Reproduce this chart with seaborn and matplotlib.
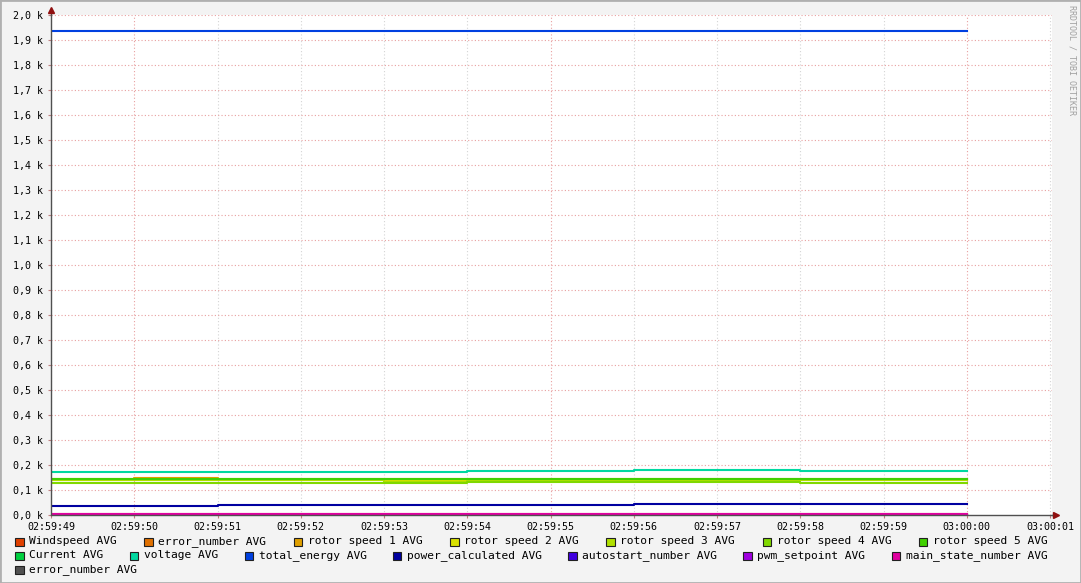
import numpy as np
import pandas as pd
import seaborn as sns
import matplotlib.pyplot as plt
from matplotlib.patches import Rectangle

# time axis labels (one per second)
time_labels = ["02:59:49", "02:59:50", "02:59:51", "02:59:52", "02:59:53", "02:59:54",
               "02:59:55", "02:59:56", "02:59:57", "02:59:58", "02:59:59", "03:00:00",
               "03:00:01"]

series_names = ["Windspeed AVG", "error_number AVG", "rotor speed 1 AVG", "rotor speed 2 AVG",
                "rotor speed 3 AVG", "rotor speed 4 AVG", "rotor speed 5 AVG", "Current AVG",
                "voltage AVG", "total_energy AVG", "power_calculated AVG", "autostart_number AVG",
                "pwm_setpoint AVG", "main_state_number AVG", "error_number AVG"]
series_colors = ["#e04000", "#e07000", "#e0a000", "#d8e000", "#b0e000", "#80d800", "#40d000",
                 "#00d040", "#00d8a0", "#0040e0", "#0000a0", "#4000e0", "#a000e0", "#e000a0",
                 "#505050"]

# one value per 1 s step, 02:59:49 -> 03:00:00
windspeed      = [3, 3, 3, 3, 3, 3, 3, 3, 3, 3, 3]
error_number   = [0, 0, 0, 0, 0, 0, 0, 0, 0, 0, 0]
rotor_speed_1  = [146, 150, 146, 146, 146, 146, 146, 146, 146, 146, 146]
rotor_speed_2  = [140, 140, 140, 140, 140, 140, 140, 140, 140, 140, 140]
rotor_speed_3  = [140, 140, 140, 140, 132, 138, 138, 138, 138, 140, 140]
rotor_speed_4  = [128, 128, 128, 128, 128, 132, 132, 132, 132, 128, 128]
rotor_speed_5  = [146, 146, 146, 146, 146, 146, 146, 146, 146, 146, 146]
current        = [2, 2, 2, 2, 2, 2, 2, 2, 2, 2, 2]
voltage        = [174, 174, 174, 174, 174, 178, 178, 182, 182, 178, 178]
total_energy   = [1936, 1936, 1936, 1936, 1936, 1936, 1936, 1936, 1936, 1936, 1936]
power_calc     = [37, 37, 41, 41, 41, 41, 41, 45, 45, 45, 45]
autostart      = [0, 0, 0, 0, 0, 0, 0, 0, 0, 0, 0]
pwm_setpoint   = [0, 0, 0, 0, 0, 0, 0, 0, 0, 0, 0]
main_state     = [3, 3, 3, 3, 3, 3, 3, 3, 3, 3, 3]
error_number_2 = [0, 0, 0, 0, 0, 0, 0, 0, 0, 0, 0]

all_values = [windspeed, error_number, rotor_speed_1, rotor_speed_2, rotor_speed_3,
              rotor_speed_4, rotor_speed_5, current, voltage, total_energy, power_calc,
              autostart, pwm_setpoint, main_state, error_number_2]

rows = []
for i, vals in enumerate(all_values):
    vv = list(vals) + [vals[-1]]                      # close the last step
    for t, v in enumerate(vv):
        rows.append({"t": t, "value": v, "key": f"s{i}"})
df = pd.DataFrame(rows)
keys = [f"s{i}" for i in range(len(series_names))]
pal = dict(zip(keys, series_colors))
draw_order = [keys[-1]] + keys[:-1]   # grey error_number sits under the magenta line

W, H = 1081, 583
fig = plt.figure(figsize=(W / 100, H / 100), dpi=100, facecolor="#f3f3f3")
# plot canvas: x 51..1052 px, y 15..515 px
ax = fig.add_axes([51 / W, (H - 515) / H, 1001 / W, 500 / H])
ax.set_facecolor("white")

mono = "DejaVu Sans Mono"

# grid
for t, lab in enumerate(time_labels):
    major = lab.endswith("0") or lab.endswith("5")
    ax.axvline(t, color="#e8a0a0" if major else "#d4d4d4", lw=0.8,
               linestyle=(0, (1, 2)), zorder=0)
for yv in range(100, 2001, 100):
    ax.axhline(yv, color="#e8a0a0", lw=0.8, linestyle=(0, (1, 2)), zorder=0)

sns.lineplot(data=df, x="t", y="value", hue="key", hue_order=draw_order, palette=pal,
             drawstyle="steps-post", linewidth=1.5, estimator=None, legend=False, ax=ax)

ax.set_xlim(0, 1001 / 83.25)
ax.set_ylim(0, 2000)
ax.set_xlabel("")
ax.set_ylabel("")

ax.set_xticks(range(len(time_labels)))
ax.set_xticklabels(time_labels, fontsize=7.2, family=mono)
yt = list(range(0, 2001, 100))
ax.set_yticks(yt)
ax.set_yticklabels([f"{v / 1000:.1f} k".replace(".", ",") for v in yt], fontsize=7.2, family=mono)
ax.tick_params(axis="both", length=2, color="#c08080", pad=3)
ax.tick_params(axis="y", pad=4)

for s in ["top", "right"]:
    ax.spines[s].set_visible(False)
ax.spines["left"].set_color("#505050")
ax.spines["bottom"].set_color("#505050")
ax.spines["left"].set_linewidth(1)
ax.spines["bottom"].set_linewidth(1)
ax.spines["left"].set_bounds(0, 2000)

# axis arrows
ax.plot([0, 0], [1.0, 1.008], transform=ax.transAxes, color="#505050", lw=1, clip_on=False)
ax.plot(0, 1.01, marker="^", ms=5, color="#901010", transform=ax.transAxes, clip_on=False)
ax.plot([1.0, 1.003], [0, 0], transform=ax.transAxes, color="#505050", lw=1, clip_on=False)
ax.plot(1.004, 0, marker=">", ms=5, color="#901010", transform=ax.transAxes, clip_on=False)

# legend, justified rows like rrdtool
cw = 6.72
row_y = [541.5, 555.5, 569.5]
rows_idx = [list(range(0, 7)), list(range(7, 14)), [14]]
for r, idx in enumerate(rows_idx):
    widths = [15 + len(series_names[i]) * cw for i in idx]
    if len(idx) > 1:
        gap = (1048 - 15 - sum(widths)) / (len(idx) - 1)
    else:
        gap = 0
    x = 15
    for i, w in zip(idx, widths):
        y = row_y[r]
        fig.patches.append(Rectangle(((x) / W, (H - y - 4.5) / H), 8.5 / W, 8.5 / H,
                                     transform=fig.transFigure, facecolor=series_colors[i],
                                     edgecolor="#202020", lw=0.8))
        fig.text((x + 14) / W, (H - y) / H, series_names[i], fontsize=8.1, family=mono,
                 va="center", ha="left", color="black")
        x += w + gap

# watermark
fig.text(1072 / W, (H - 5) / H, "RRDTOOL / TOBI OETIKER", rotation=270, fontsize=6,
         family=mono, color="#a0a0a0", ha="center", va="top")

# frame
fig.patches.append(Rectangle((0, 0), 1, 1, transform=fig.transFigure, fill=False,
                             edgecolor="#b0b0b0", lw=2))

fig.savefig("out.png", dpi=100, facecolor=fig.get_facecolor())
